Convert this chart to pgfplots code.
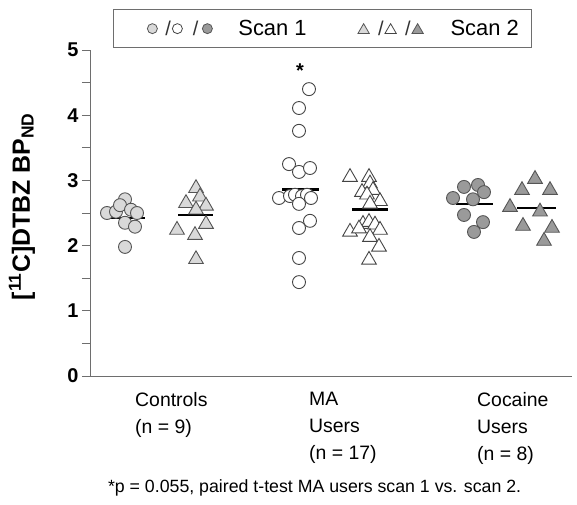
\documentclass[border=0pt]{standalone}
\usepackage{pgfplots}
\pgfplotsset{compat=1.18}
\usepackage{fontspec}
\setmainfont{Liberation Sans}
\definecolor{lightfill}{HTML}{D9D9D9}
\definecolor{darkfill}{HTML}{9A9A9A}
\definecolor{edge}{HTML}{555555}
\definecolor{openedge}{HTML}{444444}
\definecolor{axisgray}{HTML}{6E6E6E}
\begin{document}
\begin{tikzpicture}
\begin{axis}[
  scale only axis, width=482bp, height=326bp,
  xmin=0, xmax=482, ymin=0, ymax=5,
  clip=false,
  axis x line*=bottom, axis y line*=left,
  axis line style={axisgray, line width=1pt},
  ytick={0,1,2,3,4,5}, minor ytick={0.5,1.5,2.5,3.5,4.5},
  tick align=outside, major tick length=8bp, minor tick length=8bp,
  tick style={axisgray, line width=0.8pt},
  yticklabel style={font=\fontsize{20}{20}\selectfont\bfseries},
  /pgf/number format/assume math mode=true,
  xtick={45,219,387},
  xticklabels={{Controls\\(n = 9)},{MA\\Users\\(n = 17)},{Cocaine\\Users\\(n = 8)}},
  x tick style={draw=none},
  xticklabel style={font=\fontsize{19.5}{27}\selectfont, align=left, anchor=north west, inner sep=0pt, yshift=-8bp},
  ylabel={[\textsuperscript{11}C]DTBZ BP\textsubscript{ND}},
  ylabel style={font=\fontsize{25}{25}\selectfont\bfseries, at={(axis description cs:-0.141,0.52)}, anchor=center},
  legend columns=2,
  legend style={at={(rel axis cs:0.0477,1.006)}, anchor=south west, draw=axisgray, line width=0.8pt,
    inner sep=0pt, column sep=0pt, font=\fontsize{22}{22}\selectfont,
    nodes={inner sep=0pt, anchor=west}},
]
\addlegendimage{legend image code/.code={
  \path[draw=none, fill=none] (-39bp,-19bp) rectangle (86bp,19bp);
  \draw[line width=0.8pt] plot[only marks, mark=*, mark size=5bp, mark options={draw=edge, fill=lightfill}] coordinates {(0bp,0bp)};
  \node[draw=none, font=\fontsize{20}{20}\selectfont, text=black!80, inner sep=0pt] at (12.5bp,0bp) {/};
  \draw[line width=0.8pt] plot[only marks, mark=*, mark size=5bp, mark options={draw=openedge, fill=white}] coordinates {(25bp,0bp)};
  \node[draw=none, font=\fontsize{20}{20}\selectfont, text=black!80, inner sep=0pt] at (40bp,0bp) {/};
  \draw[line width=0.8pt] plot[only marks, mark=*, mark size=5bp, mark options={draw=edge, fill=darkfill}] coordinates {(55bp,0bp)};
}}
\addlegendentry{Scan 1}
\addlegendimage{legend image code/.code={
  \path[draw=none, fill=none] (-57bp,-19bp) rectangle (87bp,19bp);
  \draw[line width=0.8pt] plot[only marks, mark=triangle*, mark size=6.5bp, mark options={draw=edge, fill=lightfill}] coordinates {(0bp,-1.5bp)};
  \node[draw=none, font=\fontsize{20}{20}\selectfont, text=black!80, inner sep=0pt] at (14bp,0bp) {/};
  \draw[line width=0.8pt] plot[only marks, mark=triangle*, mark size=6.5bp, mark options={draw=openedge, fill=white}] coordinates {(27bp,-1.5bp)};
  \node[draw=none, font=\fontsize{20}{20}\selectfont, text=black!80, inner sep=0pt] at (41bp,0bp) {/};
  \draw[line width=0.8pt] plot[only marks, mark=triangle*, mark size=6.5bp, mark options={draw=edge, fill=darkfill}] coordinates {(54bp,-1.5bp)};
}}
\addlegendentry{Scan 2\rule{13bp}{0pt}}

% Controls scan 1
\addplot[forget plot, only marks, mark=*, mark size=6.5bp, mark options={draw=edge, fill=lightfill, line width=0.9pt}]
  coordinates {(35,2.71) (17,2.50) (26,2.52) (30,2.62) (41,2.55) (47,2.50) (35,2.35) (45,2.29) (35,1.98)};
% Controls scan 2
\addplot[forget plot, only marks, mark=triangle*, mark size=8.5bp, mark options={draw=edge, fill=lightfill, line width=0.9pt}]
  coordinates {(106,2.88) (96,2.65) (110,2.75) (116,2.61) (106,2.55) (116,2.33) (87,2.24) (105,2.16) (106,1.79)};
% MA scan 1
\addplot[forget plot, only marks, mark=*, mark size=6.5bp, mark options={draw=openedge, fill=white, line width=0.9pt}]
  coordinates {(219,4.40) (209,4.11) (209,3.76) (199,3.25) (209,3.13) (220,3.19) (189,2.73) (200,2.76) (205,2.78) (212,2.76) (217,2.78) (221,2.73) (209,2.64) (220,2.38) (209,2.27) (209,1.81) (209,1.44)};
% MA scan 2
\addplot[forget plot, only marks, mark=triangle*, mark size=8.5bp, mark options={draw=openedge, fill=white, line width=0.9pt}]
  coordinates {(260,3.05) (279,3.05) (280,2.95) (272,2.82) (283,2.85) (277,2.78) (290,2.68) (280,2.64) (273,2.33) (279,2.36) (285,2.32) (260,2.21) (269,2.26) (290,2.24) (280,2.13) (289,1.98) (279,1.78)};
% Cocaine scan 1
\addplot[forget plot, only marks, mark=*, mark size=6.5bp, mark options={draw=edge, fill=darkfill, line width=0.9pt}]
  coordinates {(363,2.73) (374,2.90) (388,2.93) (394,2.82) (383,2.71) (374,2.47) (393,2.36) (384,2.21)};
% Cocaine scan 2
\addplot[forget plot, only marks, mark=triangle*, mark size=8.5bp, mark options={draw=edge, fill=darkfill, line width=0.9pt}]
  coordinates {(445,3.02) (432,2.85) (460,2.85) (420,2.59) (450,2.52) (433,2.30) (462,2.27) (454,2.07)};

% group means
\addplot[forget plot, black, line width=2.5bp] coordinates {(15,2.42) (55,2.42)};
\addplot[forget plot, black, line width=2.5bp] coordinates {(88,2.47) (123,2.47)};
\addplot[forget plot, black, line width=2.5bp] coordinates {(192,2.86) (229,2.86)};
\addplot[forget plot, black, line width=2.5bp] coordinates {(262,2.55) (298,2.55)};
\addplot[forget plot, black, line width=2.5bp] coordinates {(366,2.64) (403,2.64)};
\addplot[forget plot, black, line width=2.5bp] coordinates {(427,2.58) (466,2.58)};

\node[font=\fontsize{20}{20}\selectfont\bfseries, anchor=north, inner sep=0pt] at (axis cs:210,4.79) {*};
\node[font=\fontsize{17.8}{20}\selectfont, anchor=west, inner sep=0pt] at (rel axis cs:0.037,-0.344) {*p = 0.055, paired t-test MA users scan 1 vs. scan 2.};
\end{axis}
\pgfresetboundingbox
\path (-90bp,-129bp) rectangle (487bp,376bp);
\end{tikzpicture}
\end{document}
